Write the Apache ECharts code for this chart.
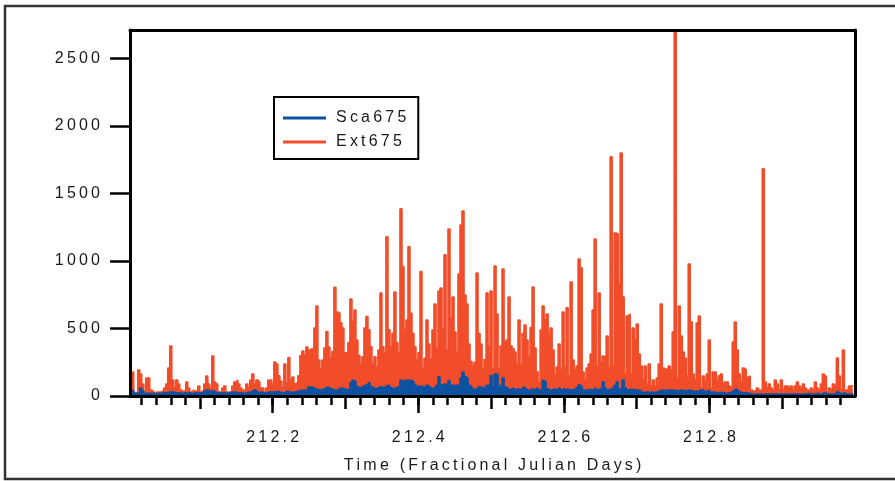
<!DOCTYPE html>
<html><head><meta charset="utf-8">
<script src="https://cdn.jsdelivr.net/npm/echarts@6/dist/echarts.min.js"></script>
<style>html,body{margin:0;padding:0;background:#fff}#c{width:895px;height:481px}</style>
</head><body><div id="c"></div>
<script>
// sampling of the time series (fractional Julian day)
const startDay = 212.005;
const stepDay = 0.00275;

const ext675 = [
163,178,25,25,193,163,89,30,133,133,
44,30,25,30,30,30,44,59,89,207,
370,118,59,118,89,44,30,44,104,59,
30,44,30,44,74,30,44,89,148,89,
59,296,104,89,30,30,59,74,30,30,
30,74,104,118,89,59,44,44,89,59,
118,163,89,118,104,59,59,30,59,118,
118,89,252,237,150,110,60,237,100,284,
120,140,90,100,150,299,333,300,363,340,
350,345,504,667,267,200,267,355,477,363,
280,330,805,622,613,543,504,320,320,395,
719,552,637,415,300,237,290,504,589,490,
365,237,290,215,340,763,365,320,1180,490,
365,465,770,395,320,1386,958,490,563,1106,
613,465,365,267,320,921,207,279,563,385,
270,489,681,351,778,800,504,1045,340,1237,
578,733,474,326,904,1267,1370,748,681,385,
256,220,250,911,463,385,207,270,763,370,
778,207,963,607,207,370,941,396,415,733,
370,350,326,237,563,230,463,526,415,285,
507,807,355,180,100,489,667,563,607,463,
504,341,156,215,385,196,622,211,654,148,
844,267,193,222,1015,950,178,119,207,237,
311,637,1163,222,763,252,296,282,444,207,
1771,222,1207,1200,830,1800,733,163,593,607,
163,504,417,533,311,222,119,222,89,237,
74,119,74,133,237,681,207,193,207,222,
193,474,2750,133,667,444,326,282,148,978,
548,163,119,541,593,59,148,119,163,415,
59,178,178,119,148,163,89,104,104,74,
59,400,548,341,163,104,207,193,139,148,
44,30,44,59,44,30,1682,104,59,89,
59,44,119,89,44,119,44,74,74,59,
74,44,74,104,74,59,89,59,44,30,
59,44,104,59,44,89,163,148,30,59,
44,89,74,282,148,44,341,44,44,74,
74,74
];

const sca675 = [
59,40,20,20,25,59,40,20,20,20,
20,20,15,20,20,20,25,20,25,30,
30,30,25,20,25,20,20,25,20,25,
20,20,25,20,25,20,30,44,44,40,
25,40,30,20,25,20,25,20,20,25,
25,30,30,25,20,25,20,20,25,30,
30,44,44,30,25,30,25,20,25,30,
30,30,30,35,30,25,20,30,35,30,
25,30,30,35,40,40,45,40,50,67,
67,60,55,45,50,45,50,60,67,60,
50,50,40,45,55,60,55,50,45,55,
100,116,110,70,60,67,75,80,90,104,
70,60,55,60,67,70,60,70,80,75,
60,55,60,67,70,116,116,100,116,116,
116,105,80,70,75,70,67,55,79,67,
55,60,60,80,143,80,88,88,80,115,
80,80,80,80,67,133,178,143,133,80,
67,50,50,50,67,67,60,60,80,80,
150,60,163,163,80,60,133,67,60,44,
54,60,44,54,44,54,67,54,44,40,
54,44,54,60,44,44,115,104,54,44,
40,54,44,54,60,44,54,44,54,44,
44,50,44,60,82,70,44,40,44,50,
44,50,60,44,50,60,104,60,44,50,
44,60,80,104,50,60,119,60,44,50,
44,50,44,40,44,30,25,30,30,25,
30,25,30,30,40,44,40,44,40,44,
44,40,44,30,44,40,44,30,44,40,
44,30,40,30,44,44,40,30,40,40,
25,30,25,20,30,20,25,20,20,25,
30,44,52,40,30,25,20,25,20,20,
15,15,15,15,15,15,15,15,15,15,
15,15,15,15,15,15,15,15,15,15,
15,15,15,15,15,15,15,15,20,15,
15,15,15,20,15,15,25,20,15,15,
15,15,15,30,20,15,25,15,15,15,
15,15
];

const yTicks = [0, 500, 1000, 1500, 2000, 2500];
const xMajorTicks = [212.2, 212.4, 212.6, 212.8];
const xMidTicks = [212.1, 212.3, 212.5, 212.7, 212.9];
const xMinorTicks = [];
for (let k = 1; k < 50; k++) xMinorTicks.push(+(212 + k * 0.02).toFixed(2));
const seriesNames = ['Sca675', 'Ext675'];
const xTitle = 'Time (Fractional Julian Days)';

const X_MIN = 212.004, X_MAX = 213.0, Y_MIN = 0, Y_MAX = 2711;
const RED = '#f14d2a', BLUE = '#0d52a1';
const FONT = "'Liberation Sans', Arial, sans-serif";
const spaced = s => String(s).split('').join('\u2009');

const toPts = arr => arr.map((v, i) => [startDay + i * stepDay, v]);

const baseX = {
  type: 'value', min: X_MIN, max: X_MAX, position: 'bottom',
  splitLine: { show: false }, axisLine: { show: false },
  axisLabel: { show: false }, axisTick: { show: false }
};

const chart = echarts.init(document.getElementById('c'), null, { renderer: 'canvas' });
chart.setOption({
  animation: false,
  backgroundColor: '#fff',
  grid: { left: 130, right: 40, top: 30, bottom: 85, containLabel: false },
  graphic: [{
    type: 'rect', z: 100, silent: true,
    shape: { x: 5, y: 6, width: 900, height: 473 },
    style: { fill: 'none', stroke: '#333', lineWidth: 2.5 }
  }],
  legend: {
    data: seriesNames.map(n => ({ name: n })),
    orient: 'vertical', left: 274, top: 97,
    selectedMode: false,
    borderColor: '#000', borderWidth: 2, borderRadius: 0,
    padding: [12, 12, 8, 9],
    itemGap: 6, itemWidth: 43, itemHeight: 3, icon: 'rect',
    formatter: n => spaced(n),
    textStyle: { fontFamily: FONT, fontSize: 16, color: '#1a1a1a', lineHeight: 18, padding: [0, 0, 0, 5] }
  },
  xAxis: [
    Object.assign({}, baseX, {
      z: 10,
      axisLine: { show: true, onZero: false, lineStyle: { color: '#000', width: 3 } },
      axisTick: { show: true, customValues: xMajorTicks, length: 17, lineStyle: { color: '#000', width: 2.5 } },
      axisLabel: { show: true, customValues: xMajorTicks, margin: 34, formatter: v => spaced(v.toFixed(1)),
        fontFamily: FONT, fontSize: 16, color: '#1a1a1a' },
      name: spaced(xTitle), nameLocation: 'middle', nameGap: 62,
      nameTextStyle: { fontFamily: FONT, fontSize: 16, color: '#1a1a1a' }
    }),
    Object.assign({}, baseX, {
      z: 9,
      axisTick: { show: true, customValues: xMidTicks, length: 13, lineStyle: { color: '#000', width: 2.5 } }
    }),
    Object.assign({}, baseX, {
      z: 8,
      axisTick: { show: true, customValues: xMinorTicks, length: 9, lineStyle: { color: '#000', width: 2.5 } }
    }),
    Object.assign({}, baseX, {
      position: 'top', z: 10,
      axisLine: { show: true, onZero: false, lineStyle: { color: '#000', width: 3 } }
    })
  ],
  yAxis: [
    {
      type: 'value', min: Y_MIN, max: Y_MAX, position: 'left', z: 10,
      splitLine: { show: false },
      axisLine: { show: true, onZero: false, lineStyle: { color: '#000', width: 3 } },
      axisTick: { show: true, customValues: yTicks, length: 20, lineStyle: { color: '#000', width: 2.5 } },
      axisLabel: { customValues: yTicks, margin: 30, formatter: v => spaced(v),
        fontFamily: FONT, fontSize: 16, color: '#1a1a1a' }
    },
    {
      type: 'value', min: Y_MIN, max: Y_MAX, position: 'right', z: 10,
      splitLine: { show: false },
      axisLine: { show: true, onZero: false, lineStyle: { color: '#000', width: 3 } },
      axisTick: { show: false }, axisLabel: { show: false }
    }
  ],
  series: [
    {
      name: 'Ext675', type: 'line', xAxisIndex: 0, yAxisIndex: 0,
      data: toPts(ext675), step: 'middle', symbol: 'none', showSymbol: false,
      color: RED, lineStyle: { color: RED, width: 1.6 },
      areaStyle: { color: RED, opacity: 1 }, z: 2
    },
    {
      name: 'Sca675', type: 'line', xAxisIndex: 0, yAxisIndex: 0,
      data: toPts(sca675), step: 'middle', symbol: 'none', showSymbol: false,
      color: BLUE, lineStyle: { color: BLUE, width: 1.6 },
      areaStyle: { color: BLUE, opacity: 1 }, z: 3
    }
  ]
});
</script>
</body></html>
